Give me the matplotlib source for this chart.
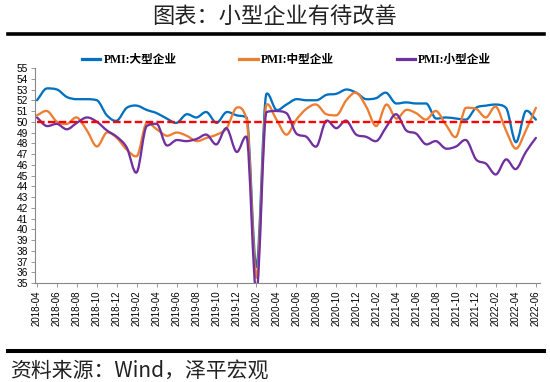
import numpy as np
import matplotlib
matplotlib.use('Agg')
import matplotlib.pyplot as plt
from matplotlib.path import Path
from matplotlib.patches import PathPatch
from matplotlib.lines import Line2D

plt.rcParams['font.family'] = ['Liberation Sans', 'Noto Sans CJK SC', 'DejaVu Sans']

# monthly PMI by firm size, 2018-04 .. 2022-06
months = ['2018-04', '2018-05', '2018-06', '2018-07', '2018-08', '2018-09', '2018-10',
          '2018-11', '2018-12', '2019-01', '2019-02', '2019-03', '2019-04', '2019-05',
          '2019-06', '2019-07', '2019-08', '2019-09', '2019-10', '2019-11', '2019-12',
          '2020-01', '2020-02', '2020-03', '2020-04', '2020-05', '2020-06', '2020-07',
          '2020-08', '2020-09', '2020-10', '2020-11', '2020-12', '2021-01', '2021-02',
          '2021-03', '2021-04', '2021-05', '2021-06', '2021-07', '2021-08', '2021-09',
          '2021-10', '2021-11', '2021-12', '2022-01', '2022-02', '2022-03', '2022-04',
          '2022-05', '2022-06']

pmi_large = [52.0, 53.1, 53.0, 52.3, 52.1, 52.1, 52.0, 50.6, 50.1, 51.3, 51.5, 51.1,
             50.8, 50.3, 49.9, 50.7, 50.4, 50.9, 49.9, 50.9, 50.6, 50.4, 36.5, 52.6,
             51.1, 51.6, 52.1, 52.0, 52.0, 52.5, 52.6, 53.0, 52.7, 52.1, 52.2, 52.7,
             51.7, 51.8, 51.7, 51.7, 50.3, 50.4, 50.3, 50.2, 51.3, 51.5, 51.6, 51.3,
             48.1, 51.0, 50.2]

pmi_medium = [50.6, 51.0, 50.0, 49.8, 50.4, 49.2, 47.7, 49.0, 48.5, 47.4, 46.8, 49.9,
              49.3, 48.7, 49.0, 48.7, 48.2, 48.5, 48.8, 49.4, 51.3, 50.3, 35.5, 51.6,
              50.2, 48.8, 50.2, 51.2, 51.6, 50.7, 50.6, 52.0, 52.7, 51.4, 49.6, 51.6,
              50.3, 51.1, 50.8, 50.2, 51.0, 49.7, 48.6, 51.3, 51.2, 50.4, 51.4, 49.2,
              47.5, 49.2, 51.3]

pmi_small = [50.4, 49.6, 49.8, 49.3, 49.9, 50.4, 50.0, 49.2, 48.6, 47.6, 45.3, 49.6,
             49.8, 47.8, 48.3, 48.2, 48.4, 48.8, 47.9, 49.4, 47.2, 48.6, 34.1, 50.9,
             51.0, 50.8, 48.9, 48.6, 47.7, 50.1, 49.4, 50.1, 48.8, 48.6, 48.2, 49.5,
             50.7, 49.2, 48.9, 47.9, 48.2, 47.5, 47.7, 48.3, 46.5, 46.1, 45.1, 46.5,
             45.6, 47.2, 48.5]

threshold = 50
series_names = ['PMI:大型企业', 'PMI:中型企业', 'PMI:小型企业']
colors = ['#0070C0', '#ED7D31', '#7030A0']


def smooth_path(xs, ys):
    # smoothed line like Excel: hermite pieces through every point, slopes limited
    xs = np.asarray(xs, float)
    ys = np.asarray(ys, float)
    n = len(ys)
    d = np.diff(ys) / np.diff(xs)
    m = np.zeros(n)
    m[0], m[-1] = d[0], d[-1]
    for i in range(1, n - 1):
        cr = (d[i - 1] + d[i]) / 2
        lim = min(abs(d[i - 1]), abs(d[i]))
        if d[i - 1] * d[i] <= 0:
            lim *= 0.5
        else:
            lim *= 3
        m[i] = np.sign(cr) * min(abs(cr), lim)
    verts = [(xs[0], ys[0])]
    codes = [Path.MOVETO]
    for i in range(n - 1):
        h = xs[i + 1] - xs[i]
        verts += [(xs[i] + h / 3, ys[i] + m[i] * h / 3),
                  (xs[i + 1] - h / 3, ys[i + 1] - m[i + 1] * h / 3),
                  (xs[i + 1], ys[i + 1])]
        codes += [Path.CURVE4] * 3
    return Path(verts, codes)


fig = plt.figure(figsize=(5.5, 3.82), dpi=100, facecolor='white')
ax = fig.add_axes([0.0636, 0.259, 0.918, 0.563])

x = np.arange(len(months))
for vals, c in zip([pmi_large, pmi_medium, pmi_small], colors):
    ax.add_patch(PathPatch(smooth_path(x, vals), fill=False, edgecolor=c,
                           linewidth=1.65, capstyle='round', joinstyle='round'))

ax.plot(x, [threshold] * len(x), color='#FF0000', linestyle=(0, (3.2, 1.4)),
        linewidth=1.7, zorder=5)

ax.set_xlim(-0.2, 50.4)
ax.set_ylim(35, 55)
ax.set_yticks(range(35, 56))
ax.tick_params(axis='y', labelsize=7.3, length=3, width=0.6, color='#888888', pad=2)
ax.set_xticks(x[::2])
ax.set_xticklabels(months[::2], rotation=90, fontsize=7)
ax.tick_params(axis='x', length=3, width=0.6, color='#888888', pad=2.5)
for s in ['top', 'right']:
    ax.spines[s].set_visible(False)
for s in ['left', 'bottom']:
    ax.spines[s].set_color('#888888')
    ax.spines[s].set_linewidth(0.8)

handles = [Line2D([], [], color=c, linewidth=2.3) for c in colors]
fig.legend(handles, series_names, loc='center', bbox_to_anchor=(0.521, 0.843), ncol=3,
           frameon=False, handlelength=1.55, handletextpad=0.26, columnspacing=5.4,
           prop={'family': ['Liberation Serif', 'Noto Sans CJK SC'], 'weight': 'bold', 'size': 8.4})

fig.text(0.5, 1 - 16 / 382, '图表：小型企业有待改善', ha='center', va='center',
         fontsize=16, color='#222222', weight='light',
         family=['Noto Sans CJK SC', 'DejaVu Sans'])
fig.add_artist(Line2D([8 / 550, 544 / 550], [1 - 34.4 / 382] * 2, color='black', linewidth=2.6))
fig.add_artist(Line2D([8 / 550, 544 / 550], [1 - 351 / 382] * 2, color='black', linewidth=2.9))
fig.text(10 / 550, 1 - 372 / 382, '资料来源：Wind，泽平宏观', ha='left', va='center',
         fontsize=15, style='italic', color='#222222', weight='light',
         family=['Noto Sans CJK SC', 'DejaVu Sans'])

fig.savefig('out.png', dpi=100, facecolor='white')
